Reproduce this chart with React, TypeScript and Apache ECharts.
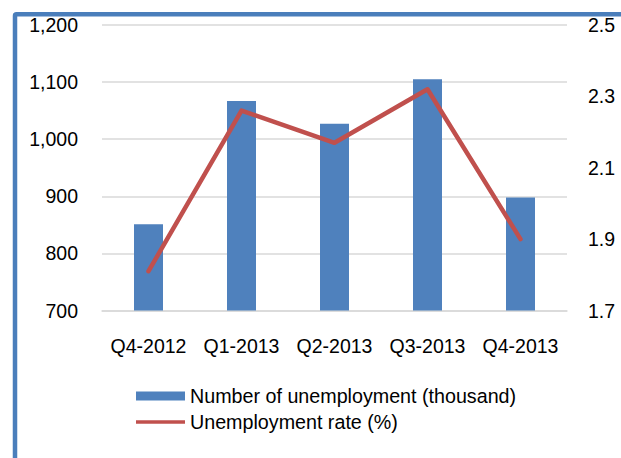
import React, { useEffect, useRef } from "react";
import * as echarts from "echarts";

const categories = ["Q4-2012", "Q1-2013", "Q2-2013", "Q3-2013", "Q4-2013"];
const unemployedThousand = [851, 1067, 1027, 1105, 898];
const unemploymentRate = [1.81, 2.26, 2.17, 2.32, 1.9];
const rightTicks = [1.7, 1.9, 2.1, 2.3, 2.5];

const BAR_NAME = "Number of unemployment (thousand)";
const LINE_NAME = "Unemployment rate (%)";
const FONT = "Liberation Sans, Arial, sans-serif";

export default function App() {
  const ref = useRef<HTMLDivElement>(null);
  useEffect(() => {
    if (!ref.current) return;
    const chart = echarts.init(ref.current, undefined, { renderer: "svg" });
    chart.setOption({
      animation: false,
      textStyle: { fontFamily: FONT },
      grid: { left: 102, right: 54, top: 25, bottom: 147.5 },
      graphic: [
        {
          type: "rect",
          shape: { x: 15, y: 14.3, width: 800, height: 700, r: 1.5 },
          style: { fill: "none", stroke: "#4A7EBB", lineWidth: 4.5 },
          silent: true,
          z: 100,
        },
      ],
      legend: [
        {
          data: [{ name: BAR_NAME, icon: "rect" }],
          orient: "vertical",
          left: 136,
          top: 386,
          padding: 0,
          itemWidth: 49,
          itemHeight: 9,
          itemGap: 5,
          textStyle: { fontSize: 19.7, color: "#000", fontFamily: FONT },
        },
        {
          data: [{ name: LINE_NAME, icon: "rect" }],
          orient: "vertical",
          left: 136,
          top: 412,
          padding: 0,
          itemWidth: 49,
          itemHeight: 3.5,
          textStyle: { fontSize: 19.7, color: "#000", fontFamily: FONT },
        },
      ],
      xAxis: {
        type: "category",
        data: categories,
        axisLine: { lineStyle: { color: "#D9D9D9", width: 1.5 } },
        axisTick: { show: false },
        axisLabel: { color: "#000", fontSize: 19.5, margin: 25, fontFamily: FONT, interval: 0 },
      },
      yAxis: [
        {
          type: "value",
          min: 700,
          max: 1200,
          interval: 100,
          axisLine: { show: false },
          axisTick: { show: false },
          splitLine: { lineStyle: { color: "#D9D9D9", width: 1.5 } },
          axisLabel: {
            color: "#000",
            fontSize: 19.5,
            margin: 24,
            fontFamily: FONT,
            formatter: (v: number) => v.toLocaleString("en-US"),
          },
        },
        {
          type: "value",
          min: 1.7,
          max: 2.5,
          position: "right",
          axisLine: { show: false },
          axisTick: { show: false },
          splitLine: { show: false },
          axisLabel: {
            color: "#000",
            fontSize: 19.5,
            margin: 21,
            fontFamily: FONT,
            customValues: rightTicks,
            formatter: (v: number) => v.toFixed(1),
          },
        },
      ],
      series: [
        {
          name: BAR_NAME,
          type: "bar",
          data: unemployedThousand,
          barWidth: 29,
          itemStyle: { color: "#4F81BD" },
        },
        {
          name: LINE_NAME,
          type: "line",
          yAxisIndex: 1,
          data: unemploymentRate,
          symbol: "none",
          itemStyle: { color: "#C0504D" },
          lineStyle: { color: "#C0504D", width: 4.5, cap: "round", join: "round" },
        },
      ],
    });
    return () => chart.dispose();
  }, []);
  return (
    <div
      ref={ref}
      style={{ position: "fixed", left: 0, top: 0, width: 621, height: 458, background: "#fff" }}
    />
  );
}
